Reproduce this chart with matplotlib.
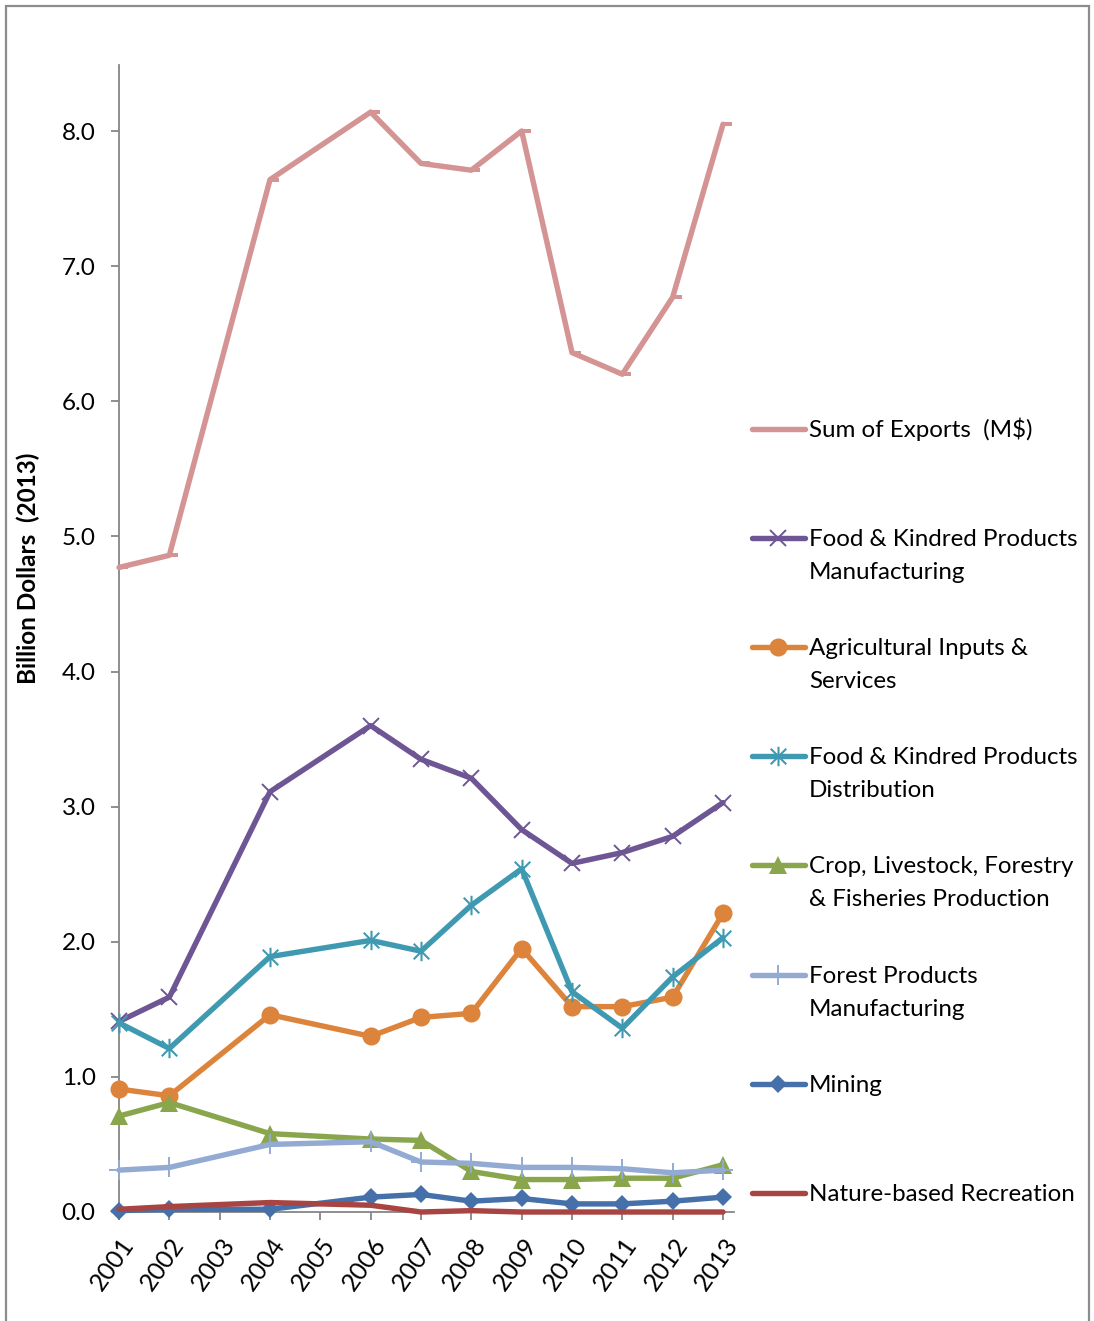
import numpy as np
import matplotlib
matplotlib.use("Agg")
import matplotlib.pyplot as plt
from matplotlib.path import Path
from matplotlib.lines import Line2D
from matplotlib.patches import Rectangle
import matplotlib.transforms as mtransforms

plt.rcParams['font.family'] = ['Lato', 'DejaVu Sans']

# Category axis (every year gets a tick) and the years that have data
year_labels = [str(y) for y in range(2001, 2014)]
data_years = [2001, 2002, 2004, 2006, 2007, 2008, 2009, 2010, 2011, 2012, 2013]

sum_exports = [4.77, 4.86, 7.64, 8.14, 7.76, 7.71, 8.00, 6.36, 6.20, 6.77, 8.05]
food_mfg = [1.41, 1.59, 3.11, 3.60, 3.35, 3.21, 2.83, 2.58, 2.66, 2.78, 3.03]
ag_inputs = [0.91, 0.86, 1.46, 1.30, 1.44, 1.47, 1.95, 1.52, 1.52, 1.59, 2.21]
food_dist = [1.40, 1.21, 1.89, 2.01, 1.93, 2.27, 2.54, 1.63, 1.36, 1.74, 2.03]
crop_prod = [0.71, 0.81, 0.58, 0.54, 0.53, 0.30, 0.24, 0.24, 0.25, 0.25, 0.35]
forest_mfg = [0.31, 0.33, 0.50, 0.52, 0.37, 0.36, 0.33, 0.33, 0.32, 0.29, 0.31]
mining = [0.01, 0.02, 0.02, 0.11, 0.13, 0.08, 0.10, 0.06, 0.06, 0.08, 0.11]
recreation = [0.02, 0.04, 0.07, 0.05, 0.00, 0.01, 0.00, 0.00, 0.00, 0.00, 0.00]

series_labels = [
    "Sum of Exports  (M$)",
    "Food & Kindred Products\nManufacturing",
    "Agricultural Inputs &\nServices",
    "Food & Kindred Products\nDistribution",
    "Crop, Livestock, Forestry\n& Fisheries Production",
    "Forest Products\nManufacturing",
    "Mining",
    "Nature-based Recreation",
]
y_label = "Billion Dollars  (2013)"

# Custom markers: a short bar to the right of the point, and a 6-arm star
dash_marker = Path([(0, -0.27), (1, -0.27), (1, 0.27), (0, 0.27), (0, -0.27)],
                   [Path.MOVETO, Path.LINETO, Path.LINETO, Path.LINETO, Path.CLOSEPOLY])
star_marker = Path([(0, -1), (0, 1), (-0.8, -0.8), (0.8, 0.8), (-0.8, 0.8), (0.8, -0.8)],
                   [Path.MOVETO, Path.LINETO, Path.MOVETO, Path.LINETO, Path.MOVETO, Path.LINETO])

styles = [
    dict(color='#D39493', marker=dash_marker, ms=13, mew=0, legend_marker=False),
    dict(color='#6E5694', marker='x', ms=12, mew=1.4, legend_marker=True),
    dict(color='#DD843C', marker='o', ms=13, mew=0, legend_marker=True),
    dict(color='#3F9AB1', marker=star_marker, ms=14, mew=1.5, legend_marker=True),
    dict(color='#8AA64D', marker='^', ms=13, mew=0, legend_marker=True),
    dict(color='#93AAD3', marker='+', ms=15, mew=1.4, legend_marker=True),
    dict(color='#4570A9', marker='D', ms=9.5, mew=0, legend_marker=True),
    dict(color='#A84543', marker=None, ms=0, mew=0, legend_marker=False),
]
series = [sum_exports, food_mfg, ag_inputs, food_dist, crop_prod,
          forest_mfg, mining, recreation]

W, H = 1094, 1321
fig = plt.figure(figsize=(W / 100, H / 100), dpi=100)
fig.patch.set_facecolor('white')

# Outer chart frame
fig.patches.append(Rectangle((5.5 / W, -0.02), (1089 - 5.5) / W, 1.02 - 6 / H,
                             transform=fig.transFigure, fill=False,
                             edgecolor='#8C8C8C', linewidth=1.6))

ax_left, ax_right = 119 / W, 734 / W
ax_bottom, ax_top = (H - 1212) / H, (H - 65) / H
ax = fig.add_axes([ax_left, ax_bottom, ax_right - ax_left, ax_top - ax_bottom])

x = np.array(data_years) - 2001
lw = 3.9
for vals, st in zip(series, styles):
    ax.plot(x, vals, color=st['color'], lw=lw, marker=st['marker'],
            ms=st['ms'], mew=st['mew'], mfc=st['color'], mec=st['color'],
            solid_capstyle='round', solid_joinstyle='round', clip_on=False, zorder=3)

x_end = (734 - 119) / ((723 - 119) / 12)
ax.set_xlim(0, x_end)
ax.set_ylim(0, (1212 - 65) / ((1212 - 131) / 8))
ax.set_yticks(np.arange(0, 9, 1.0))
ax.set_yticklabels([f"{v:.1f}" for v in np.arange(0, 9, 1.0)])
ax.set_xticks(np.arange(len(year_labels)))
ax.set_xticklabels([])

spine_c = '#868686'
for side in ['top', 'right']:
    ax.spines[side].set_visible(False)
for side in ['left', 'bottom']:
    ax.spines[side].set_color(spine_c)
    ax.spines[side].set_linewidth(1.3)
ax.tick_params(axis='both', direction='out', length=5.8, width=1.3, color=spine_c,
               labelsize=17.5, labelcolor='black')
ax.tick_params(axis='y', pad=11)

# Rotated year labels
offset = mtransforms.ScaledTranslation(10 / 100, -28 / 100, fig.dpi_scale_trans)
for i, lab in enumerate(year_labels):
    ax.text(i, 0, lab, transform=ax.get_xaxis_transform() + offset,
            rotation=55, rotation_mode='anchor', ha='right', va='center',
            fontsize=18)

fig.text(28 / W, 1 - 568 / H, y_label, rotation=90, ha='center', va='center',
         fontsize=17.5, fontweight='bold')

# Legend, drawn entry by entry
leg_y = [429, 538, 647, 756, 865, 975, 1084, 1193]
for yy, lab, st in zip(leg_y, series_labels, styles):
    fy = 1 - yy / H
    fig.add_artist(Line2D([752 / W, 805 / W], [fy, fy], transform=fig.transFigure,
                          color=st['color'], lw=lw, solid_capstyle='round'))
    if st['legend_marker']:
        fig.add_artist(Line2D([778 / W], [fy], transform=fig.transFigure,
                              color=st['color'], marker=st['marker'], ms=st['ms'],
                              mew=st['mew'], mfc=st['color'], mec=st['color'], lw=0))
    for k, line in enumerate(lab.split('\n')):
        fig.text(809 / W, 1 - (yy + 8 + 33 * k) / H, line, ha='left', va='baseline',
                 fontsize=17.4)

fig.savefig('out.png', dpi=100)
